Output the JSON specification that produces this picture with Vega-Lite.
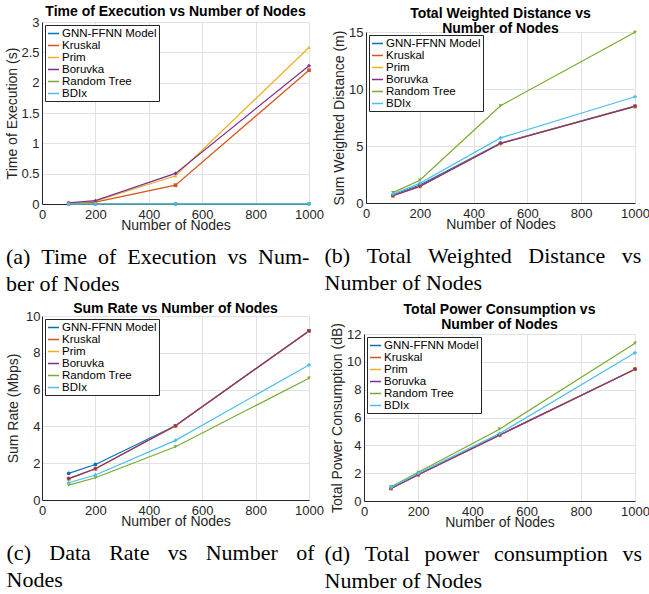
{
  "$schema": "https://vega.github.io/schema/vega-lite/v6.json",
  "padding": {"left": 5, "top": 5, "right": 0, "bottom": 0},
  "background": "white",
  "config": {
    "font": "Liberation Sans",
    "view": {"stroke": null},
    "axis": {"domainColor": "#262626", "gridColor": "#e2e2e2", "labelColor": "#262626", "titleColor": "#262626", "labelFontSize": 13, "titleFontSize": 14, "titleFontWeight": "normal", "tickSize": 0, "labelPadding": 4, "labelFlush": false},
    "axisX": {"titlePadding": -3, "format": "d"},
    "axisY": {"titlePadding": 3, "labelPadding": 3},
    "title": {"fontSize": 14, "fontWeight": "bold", "color": "black", "offset": 2, "lineHeight": 15.5},
    "legend": {"orient": "top-left", "offset": 3, "padding": 2, "strokeColor": "#262626", "fillColor": "white", "labelFontSize": 11.5, "labelColor": "black", "symbolType": "stroke", "symbolSize": 121, "symbolStrokeWidth": 1.5, "rowPadding": 0, "labelOffset": 2, "title": null}
  },
  "columns": 2,
  "align": "none",
  "spacing": {"row": 7, "column": 0},
  "concat": [
    {
      "title": {"text": ["(a)\u2002Time\u2002of\u2002Execution\u2002vs\u2002Num-", "ber of Nodes"], "orient": "bottom", "anchor": "start", "font": "Liberation Serif", "fontSize": 22, "fontWeight": "normal", "lineHeight": 26.5, "offset": 15, "color": "black", "frame": "bounds"},
      "vconcat": [
        {
          "width": 267, "height": 182,
          "title": {"text": "Time of Execution vs Number of Nodes", "offset": -3},
          "data": {"values": [
            {"n": 100, "algo": "GNN-FFNN Model", "v": 0.001}, {"n": 200, "algo": "GNN-FFNN Model", "v": 0.001}, {"n": 500, "algo": "GNN-FFNN Model", "v": 0.002}, {"n": 1000, "algo": "GNN-FFNN Model", "v": 0.003},
            {"n": 100, "algo": "Kruskal", "v": 0.01}, {"n": 200, "algo": "Kruskal", "v": 0.03}, {"n": 500, "algo": "Kruskal", "v": 0.31}, {"n": 1000, "algo": "Kruskal", "v": 2.205},
            {"n": 100, "algo": "Prim", "v": 0.01}, {"n": 200, "algo": "Prim", "v": 0.045}, {"n": 500, "algo": "Prim", "v": 0.465}, {"n": 1000, "algo": "Prim", "v": 2.58},
            {"n": 100, "algo": "Boruvka", "v": 0.02}, {"n": 200, "algo": "Boruvka", "v": 0.055}, {"n": 500, "algo": "Boruvka", "v": 0.505}, {"n": 1000, "algo": "Boruvka", "v": 2.28},
            {"n": 100, "algo": "Random Tree", "v": 0.001}, {"n": 200, "algo": "Random Tree", "v": 0.001}, {"n": 500, "algo": "Random Tree", "v": 0.002}, {"n": 1000, "algo": "Random Tree", "v": 0.003},
            {"n": 100, "algo": "BDIx", "v": 0.001}, {"n": 200, "algo": "BDIx", "v": 0.001}, {"n": 500, "algo": "BDIx", "v": 0.002}, {"n": 1000, "algo": "BDIx", "v": 0.003}
          ]},
          "encoding": {
            "x": {"field": "n", "type": "quantitative", "scale": {"domain": [0, 1000], "nice": false}, "axis": {"title": "Number of Nodes", "values": [0, 200, 400, 600, 800, 1000]}},
            "y": {"field": "v", "type": "quantitative", "scale": {"domain": [0, 3], "nice": false}, "axis": {"title": "Time of Execution (s)", "titlePadding": 1, "values": [0, 0.5, 1, 1.5, 2, 2.5, 3], "format": "~g"}}
          },
          "layer": [
            {"data": {"values": [{}]}, "mark": {"type": "rect", "fillOpacity": 0, "stroke": "#262626", "strokeWidth": 1}, "encoding": {"x": {"datum": 0}, "x2": {"datum": 1000}, "y": {"datum": 0}, "y2": {"datum": 3}}},
            {"mark": {"type": "line", "strokeWidth": 1.2}, "encoding": {"color": {"field": "algo", "type": "nominal", "sort": null, "scale": {"domain": ["GNN-FFNN Model", "Kruskal", "Prim", "Boruvka", "Random Tree", "BDIx"], "range": ["#0072BD", "#D95319", "#EDB120", "#7E2F8E", "#77AC30", "#4DBEEE"]}, "legend": {"symbolType": "stroke"}}}},
            {"mark": {"type": "point", "filled": true, "size": 14, "opacity": 1}, "encoding": {"color": {"field": "algo", "type": "nominal", "sort": null, "legend": null}, "shape": {"field": "algo", "type": "nominal", "scale": {"domain": ["GNN-FFNN Model", "Kruskal", "Prim", "Boruvka", "Random Tree", "BDIx"], "range": ["circle", "square", "triangle-up", "diamond", "triangle-down", "cross"]}, "legend": null}}}
          ],
          "resolve": {"legend": {"color": "independent"}}
        }
      ]
    },
    {
      "title": {"text": ["(b)\u2002\u2005Total\u2002\u2005Weighted\u2002\u2005Distance\u2002\u2005vs", "Number of Nodes"], "orient": "bottom", "anchor": "start", "font": "Liberation Serif", "fontSize": 22, "fontWeight": "normal", "lineHeight": 26.5, "offset": 15, "dx": -8, "color": "black", "frame": "bounds"},
      "vconcat": [
        {
          "title": {"text": ["Total Weighted Distance vs", "Number of Nodes"], "frame": "group", "anchor": "start", "align": "center", "dx": 134.5, "offset": -14},
          "spacing": 0,
          "vconcat": [
            {"width": 269, "height": 4, "data": {"values": []}, "mark": "point"},
            {
              "width": 269, "height": 171,
              "data": {"values": [
                {"n": 100, "algo": "GNN-FFNN Model", "v": 70000}, {"n": 200, "algo": "GNN-FFNN Model", "v": 158000}, {"n": 500, "algo": "GNN-FFNN Model", "v": 525000}, {"n": 1000, "algo": "GNN-FFNN Model", "v": 850000},
                {"n": 100, "algo": "Kruskal", "v": 64000}, {"n": 200, "algo": "Kruskal", "v": 146000}, {"n": 500, "algo": "Kruskal", "v": 522000}, {"n": 1000, "algo": "Kruskal", "v": 847000},
                {"n": 100, "algo": "Prim", "v": 64000}, {"n": 200, "algo": "Prim", "v": 146000}, {"n": 500, "algo": "Prim", "v": 522000}, {"n": 1000, "algo": "Prim", "v": 847000},
                {"n": 100, "algo": "Boruvka", "v": 64000}, {"n": 200, "algo": "Boruvka", "v": 146000}, {"n": 500, "algo": "Boruvka", "v": 522000}, {"n": 1000, "algo": "Boruvka", "v": 847000},
                {"n": 100, "algo": "Random Tree", "v": 91000}, {"n": 200, "algo": "Random Tree", "v": 200000}, {"n": 500, "algo": "Random Tree", "v": 853000}, {"n": 1000, "algo": "Random Tree", "v": 1497000},
                {"n": 100, "algo": "BDIx", "v": 79000}, {"n": 200, "algo": "BDIx", "v": 173000}, {"n": 500, "algo": "BDIx", "v": 571000}, {"n": 1000, "algo": "BDIx", "v": 932000}
              ]},
              "encoding": {
                "x": {"field": "n", "type": "quantitative", "scale": {"domain": [0, 1000], "nice": false}, "axis": {"title": "Number of Nodes", "values": [0, 200, 400, 600, 800, 1000]}},
                "y": {"field": "v", "type": "quantitative", "scale": {"domain": [0, 1500000], "nice": false}, "axis": {"title": "Sum Weighted Distance (m)", "titlePadding": 2, "values": [0, 500000, 1000000, 1500000], "labelExpr": "format(datum.value / 100000, 'd')"}}
              },
              "layer": [
                {"data": {"values": [{}]}, "mark": {"type": "rect", "fillOpacity": 0, "stroke": "#262626", "strokeWidth": 1}, "encoding": {"x": {"datum": 0}, "x2": {"datum": 1000}, "y": {"datum": 0}, "y2": {"datum": 1500000}}},
                {"mark": {"type": "line", "strokeWidth": 1.2}, "encoding": {"color": {"field": "algo", "type": "nominal", "sort": null, "scale": {"domain": ["GNN-FFNN Model", "Kruskal", "Prim", "Boruvka", "Random Tree", "BDIx"], "range": ["#0072BD", "#D95319", "#EDB120", "#7E2F8E", "#77AC30", "#4DBEEE"]}, "legend": {"symbolType": "stroke"}}}},
                {"mark": {"type": "point", "filled": true, "size": 14, "opacity": 1}, "encoding": {"color": {"field": "algo", "type": "nominal", "sort": null, "legend": null}, "shape": {"field": "algo", "type": "nominal", "scale": {"domain": ["GNN-FFNN Model", "Kruskal", "Prim", "Boruvka", "Random Tree", "BDIx"], "range": ["circle", "square", "triangle-up", "diamond", "triangle-down", "cross"]}, "legend": null}}},
                {"data": {"values": [{"label": "×10⁵"}]}, "mark": {"type": "text", "align": "left", "baseline": "bottom", "dx": 1, "dy": -1, "fontSize": 12, "color": "#262626"}, "encoding": {"x": {"datum": 0}, "y": {"datum": 1500000}, "text": {"field": "label"}}}
              ],
              "resolve": {"legend": {"color": "independent"}}
            }
          ]
        }
      ]
    },
    {
      "title": {"text": ["(c)\u2002\u2004Data\u2002\u2004Rate\u2002\u2004vs\u2002\u2004Number\u2002\u2004of", "Nodes"], "orient": "bottom", "anchor": "start", "font": "Liberation Serif", "fontSize": 22, "fontWeight": "normal", "lineHeight": 26.5, "offset": 15, "color": "black", "frame": "bounds"},
      "vconcat": [
        {
          "width": 267, "height": 184,
          "title": {"text": "Sum Rate vs Number of Nodes", "offset": -6},
          "data": {"values": [
            {"n": 100, "algo": "GNN-FFNN Model", "v": 145000000}, {"n": 200, "algo": "GNN-FFNN Model", "v": 193000000}, {"n": 500, "algo": "GNN-FFNN Model", "v": 403000000}, {"n": 1000, "algo": "GNN-FFNN Model", "v": 919000000},
            {"n": 100, "algo": "Kruskal", "v": 116000000}, {"n": 200, "algo": "Kruskal", "v": 170000000}, {"n": 500, "algo": "Kruskal", "v": 403000000}, {"n": 1000, "algo": "Kruskal", "v": 919000000},
            {"n": 100, "algo": "Prim", "v": 116000000}, {"n": 200, "algo": "Prim", "v": 170000000}, {"n": 500, "algo": "Prim", "v": 403000000}, {"n": 1000, "algo": "Prim", "v": 919000000},
            {"n": 100, "algo": "Boruvka", "v": 116000000}, {"n": 200, "algo": "Boruvka", "v": 170000000}, {"n": 500, "algo": "Boruvka", "v": 403000000}, {"n": 1000, "algo": "Boruvka", "v": 919000000},
            {"n": 100, "algo": "Random Tree", "v": 81000000}, {"n": 200, "algo": "Random Tree", "v": 121000000}, {"n": 500, "algo": "Random Tree", "v": 289000000}, {"n": 1000, "algo": "Random Tree", "v": 662000000},
            {"n": 100, "algo": "BDIx", "v": 94000000}, {"n": 200, "algo": "BDIx", "v": 136000000}, {"n": 500, "algo": "BDIx", "v": 324000000}, {"n": 1000, "algo": "BDIx", "v": 734000000}
          ]},
          "encoding": {
            "x": {"field": "n", "type": "quantitative", "scale": {"domain": [0, 1000], "nice": false}, "axis": {"title": "Number of Nodes", "values": [0, 200, 400, 600, 800, 1000]}},
            "y": {"field": "v", "type": "quantitative", "scale": {"domain": [0, 1000000000], "nice": false}, "axis": {"title": "Sum Rate (Mbps)", "titlePadding": 5, "labelPadding": 2, "values": [0, 200000000, 400000000, 600000000, 800000000, 1000000000], "labelExpr": "format(datum.value / 100000000, 'd')"}}
          },
          "layer": [
            {"data": {"values": [{}]}, "mark": {"type": "rect", "fillOpacity": 0, "stroke": "#262626", "strokeWidth": 1}, "encoding": {"x": {"datum": 0}, "x2": {"datum": 1000}, "y": {"datum": 0}, "y2": {"datum": 1000000000}}},
            {"mark": {"type": "line", "strokeWidth": 1.2}, "encoding": {"color": {"field": "algo", "type": "nominal", "sort": null, "scale": {"domain": ["GNN-FFNN Model", "Kruskal", "Prim", "Boruvka", "Random Tree", "BDIx"], "range": ["#0072BD", "#D95319", "#EDB120", "#7E2F8E", "#77AC30", "#4DBEEE"]}, "legend": {"symbolType": "stroke"}}}},
            {"mark": {"type": "point", "filled": true, "size": 14, "opacity": 1}, "encoding": {"color": {"field": "algo", "type": "nominal", "sort": null, "legend": null}, "shape": {"field": "algo", "type": "nominal", "scale": {"domain": ["GNN-FFNN Model", "Kruskal", "Prim", "Boruvka", "Random Tree", "BDIx"], "range": ["circle", "square", "triangle-up", "diamond", "triangle-down", "cross"]}, "legend": null}}},
            {"data": {"values": [{"label": "×10⁸"}]}, "mark": {"type": "text", "align": "left", "baseline": "bottom", "dx": 1, "dy": -1, "fontSize": 12, "color": "#262626"}, "encoding": {"x": {"datum": 0}, "y": {"datum": 1000000000}, "text": {"field": "label"}}}
          ],
          "resolve": {"legend": {"color": "independent"}}
        }
      ]
    },
    {
      "title": {"text": ["(d)\u2002\u2006Total\u2002\u2006power\u2002\u2006consumption\u2002\u2006vs", "Number of Nodes"], "orient": "bottom", "anchor": "start", "font": "Liberation Serif", "fontSize": 22, "fontWeight": "normal", "lineHeight": 26.5, "offset": 15, "dx": -6, "color": "black", "frame": "bounds"},
      "vconcat": [
        {
          "title": {"text": ["Total Power Consumption vs", "Number of Nodes"], "frame": "group", "anchor": "start", "align": "center", "dx": 135.5, "offset": -16},
          "spacing": 0,
          "vconcat": [
            {"width": 271, "height": 6, "data": {"values": []}, "mark": "point"},
            {
              "width": 271, "height": 167,
              "data": {"values": [
                {"n": 100, "algo": "GNN-FFNN Model", "v": 9200}, {"n": 200, "algo": "GNN-FFNN Model", "v": 19000}, {"n": 500, "algo": "GNN-FFNN Model", "v": 47500}, {"n": 1000, "algo": "GNN-FFNN Model", "v": 94700},
                {"n": 100, "algo": "Kruskal", "v": 9000}, {"n": 200, "algo": "Kruskal", "v": 18900}, {"n": 500, "algo": "Kruskal", "v": 47300}, {"n": 1000, "algo": "Kruskal", "v": 94700},
                {"n": 100, "algo": "Prim", "v": 9000}, {"n": 200, "algo": "Prim", "v": 18900}, {"n": 500, "algo": "Prim", "v": 47300}, {"n": 1000, "algo": "Prim", "v": 94700},
                {"n": 100, "algo": "Boruvka", "v": 9000}, {"n": 200, "algo": "Boruvka", "v": 18900}, {"n": 500, "algo": "Boruvka", "v": 47300}, {"n": 1000, "algo": "Boruvka", "v": 94700},
                {"n": 100, "algo": "Random Tree", "v": 10200}, {"n": 200, "algo": "Random Tree", "v": 20600}, {"n": 500, "algo": "Random Tree", "v": 51600}, {"n": 1000, "algo": "Random Tree", "v": 113400},
                {"n": 100, "algo": "BDIx", "v": 9900}, {"n": 200, "algo": "BDIx", "v": 19900}, {"n": 500, "algo": "BDIx", "v": 48500}, {"n": 1000, "algo": "BDIx", "v": 106500}
              ]},
              "encoding": {
                "x": {"field": "n", "type": "quantitative", "scale": {"domain": [0, 1000], "nice": false}, "axis": {"title": "Number of Nodes", "values": [0, 200, 400, 600, 800, 1000]}},
                "y": {"field": "v", "type": "quantitative", "scale": {"domain": [0, 120000], "nice": false}, "axis": {"title": "Total Power Consumption (dB)", "titlePadding": 2, "values": [0, 20000, 40000, 60000, 80000, 100000, 120000], "labelExpr": "format(datum.value / 10000, 'd')"}}
              },
              "layer": [
                {"data": {"values": [{}]}, "mark": {"type": "rect", "fillOpacity": 0, "stroke": "#262626", "strokeWidth": 1}, "encoding": {"x": {"datum": 0}, "x2": {"datum": 1000}, "y": {"datum": 0}, "y2": {"datum": 120000}}},
                {"mark": {"type": "line", "strokeWidth": 1.2}, "encoding": {"color": {"field": "algo", "type": "nominal", "sort": null, "scale": {"domain": ["GNN-FFNN Model", "Kruskal", "Prim", "Boruvka", "Random Tree", "BDIx"], "range": ["#0072BD", "#D95319", "#EDB120", "#7E2F8E", "#77AC30", "#4DBEEE"]}, "legend": {"symbolType": "stroke"}}}},
                {"mark": {"type": "point", "filled": true, "size": 14, "opacity": 1}, "encoding": {"color": {"field": "algo", "type": "nominal", "sort": null, "legend": null}, "shape": {"field": "algo", "type": "nominal", "scale": {"domain": ["GNN-FFNN Model", "Kruskal", "Prim", "Boruvka", "Random Tree", "BDIx"], "range": ["circle", "square", "triangle-up", "diamond", "triangle-down", "cross"]}, "legend": null}}},
                {"data": {"values": [{"label": "×10⁴"}]}, "mark": {"type": "text", "align": "left", "baseline": "bottom", "dx": 1, "dy": -1, "fontSize": 12, "color": "#262626"}, "encoding": {"x": {"datum": 0}, "y": {"datum": 120000}, "text": {"field": "label"}}}
              ],
              "resolve": {"legend": {"color": "independent"}}
            }
          ]
        }
      ]
    }
  ]
}
